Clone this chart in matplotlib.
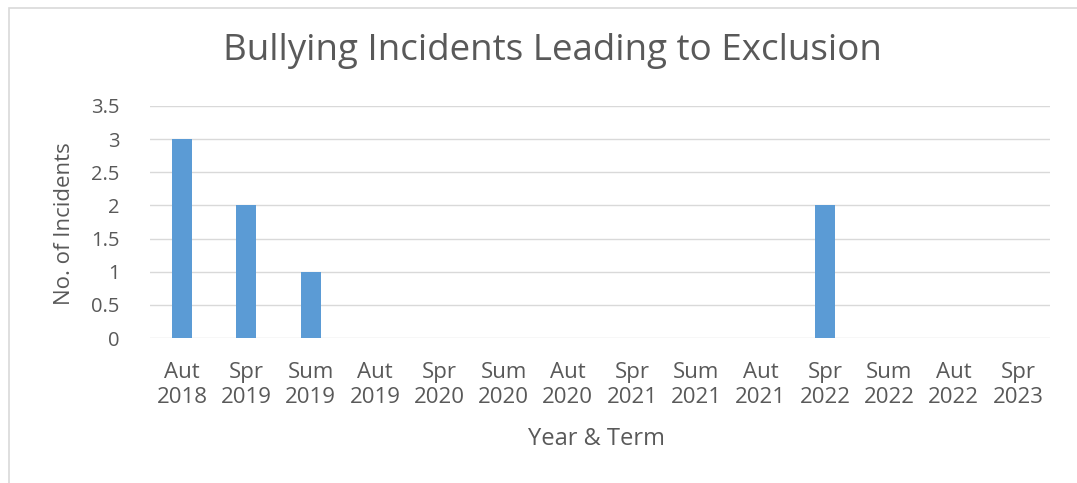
import matplotlib
matplotlib.use("Agg")
import matplotlib.pyplot as plt
from matplotlib.patches import Rectangle

terms = ["Aut", "Spr", "Sum", "Aut", "Spr", "Sum", "Aut", "Spr", "Sum", "Aut", "Spr", "Sum", "Aut", "Spr"]
years = ["2018", "2019", "2019", "2019", "2020", "2020", "2020", "2021", "2021", "2021", "2022", "2022", "2022", "2023"]
incidents = [3, 2, 1, 0, 0, 0, 0, 0, 0, 0, 2, 0, 0, 0]
yticks = [0, 0.5, 1, 1.5, 2, 2.5, 3, 3.5]
ytick_labels = ["0", "0.5", "1", "1.5", "2", "2.5", "3", "3.5"]

plt.rcParams['font.family'] = ['Open Sans', 'DejaVu Sans']
W, H = 1077, 483
fig = plt.figure(figsize=(W / 100, H / 100), dpi=100)
fig.patch.set_facecolor("white")

# chart border
fig.patches.append(Rectangle((9 / W, -0.1), 1.2, 1 - 8 / H + 0.1, transform=fig.transFigure,
                             fill=False, edgecolor="#D9D9D9", linewidth=1.2))

ax = fig.add_axes([150 / W, 1 - 338 / H, 900 / W, (338 - 106) / H])
labels = [f"{t}\n{y}" for t, y in zip(terms, years)]
x = list(range(len(labels)))
ax.bar(x, incidents, width=0.31, color="#5B9BD5", zorder=3)
ax.set_xlim(-0.5, len(labels) - 0.5)
ax.set_ylim(0, 3.5)
ax.set_yticks(yticks)
ax.set_yticklabels(ytick_labels)
ax.set_xticks(x)
ax.set_xticklabels(labels, linespacing=1.3)
ax.grid(axis="y", color="#D9D9D9", linewidth=1, zorder=0)
for s in ax.spines.values():
    s.set_visible(False)
ax.tick_params(axis="x", length=0, labelsize=16, colors="#595959", pad=17)
ax.tick_params(axis="y", length=0, labelsize=14.5, colors="#595959", pad=22)

fig.text(552 / W, 1 - 51 / H, "Bullying Incidents Leading to Exclusion", ha="center", va="center",
         fontsize=26.5, color="#595959")
fig.text(65 / W, 1 - 224 / H, "No. of Incidents", rotation=90, ha="center", va="center",
         fontsize=16, color="#595959")
fig.text(596 / W, 1 - 439 / H, "Year & Term", ha="center", va="center",
         fontsize=17, color="#595959")

fig.savefig("out.png", dpi=100, facecolor="white")
